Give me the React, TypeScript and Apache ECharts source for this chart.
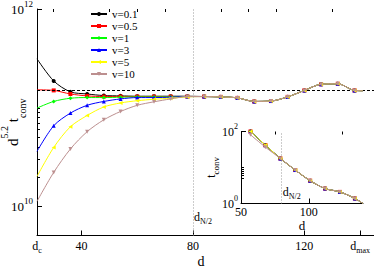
import React, { useEffect, useRef } from 'react';
import * as echarts from 'echarts';

const FONT = 'Liberation Serif';

// ---- series meta ----
const seriesNames = ['v=0.1', 'v=0.5', 'v=1', 'v=3', 'v=5', 'v=10'];
const seriesColors = ['#000000', '#ff0000', '#00ff00', '#0000ff', '#ffff00', '#bc8f8f'];
const seriesSymbols = ['circle', 'rect', 'diamond', 'triangle', 'triangle', 'triangle'];
const seriesSymbolRotate = [0, 0, 0, 0, 90, 180];

// ---- main plot (d^5.2 t_conv vs d) ----
const dHead = [24, 30, 36, 42, 48, 54, 60, 66, 72, 78];
const dTail = [84, 90, 96, 102, 108, 114, 120, 126, 132, 138, 141];

const headV01 = [3.13e11, 1.87e11, 1.45e11, 1.38e11, 1.33e11, 1.32e11, 1.31e11, 1.31e11, 1.31e11, 1.31e11];
const headV05 = [1.52e11, 1.5e11, 1.38e11, 1.32e11, 1.3e11, 1.3e11, 1.3e11, 1.3e11, 1.3e11, 1.3e11];
const headV1 = [9.93e10, 1.16e11, 1.25e11, 1.27e11, 1.27e11, 1.28e11, 1.29e11, 1.29e11, 1.29e11, 1.3e11];
const headV3 = [3.62e10, 6.58e10, 8.84e10, 1.06e11, 1.16e11, 1.23e11, 1.27e11, 1.27e11, 1.28e11, 1.3e11];
const headV5 = [2.02e10, 3.97e10, 6.43e10, 8.36e10, 1.02e11, 1.12e11, 1.18e11, 1.22e11, 1.25e11, 1.29e11];
const headV10 = [1.13e10, 2.22e10, 3.83e10, 5.73e10, 7.56e10, 9.18e10, 1.06e11, 1.15e11, 1.23e11, 1.3e11];
const tailAll = [1.3e11, 1.29e11, 1.26e11, 1.16e11, 1.17e11, 1.29e11, 1.5e11, 1.73e11, 1.75e11, 1.5e11, 1.49e11];

const plateau = 1.52e11;
const dHalf = 80;
const mainLabelY = 7.83e9;

const mainXLabelValues = [24, 40, 80, 120, 140];
const mainXMajorTicks = [40, 80, 120, 140];
const mainXMinorTicks = [30, 50, 60, 70, 90, 100, 110, 130];
const mainYMajor = [1e10, 1e12];
const mainYMinor = [2e10, 3e10, 4e10, 5e10, 6e10, 7e10, 8e10, 9e10, 1e11];

// ---- inset (t_conv vs d) ----
const dInset = [57, 68, 79, 90, 101, 112, 123, 134, 140];
const insetHead = [100, 41.7];
const insetHeadV10 = [81, 36.7];
const insetTail = [17.9, 8.5, 4.3, 2.6, 2.1, 1.38, 1.0];
const insetLabelY = 2.07;

const insetXLabelValues = [50, 100];
const insetXMajorTicks = [100];
const insetXMinorTicks = [75, 125];
const insetYMajor = [1, 100];
const insetYMinor = [5, 6, 7, 8, 9, 10];

const mainHeads = [headV01, headV05, headV1, headV3, headV5, headV10];

function buildMain(head: number[]) {
  const ds = dHead.concat(dTail);
  const vs = head.concat(tailAll);
  return ds.map((d, i) => {
    const item: any = { value: [d, vs[i]] };
    if (i === 0 || i === ds.length - 1) item.symbol = 'none';
    return item;
  });
}

function buildInset(head: number[]) {
  const vs = head.concat(insetTail);
  return dInset.map((d, i) => {
    const item: any = { value: [d, vs[i]] };
    if (i === dInset.length - 1) item.symbol = 'none';
    return item;
  });
}

const txt = (size: number, extra: any = {}) => ({ fontFamily: FONT, fontSize: size, color: '#000', ...extra });

const supStyle = (size: number, lh: number) => txt(size, { verticalAlign: 'top', lineHeight: lh });
const subStyle = (size: number, lh: number) => txt(size, { verticalAlign: 'bottom', lineHeight: lh });

const tenPow = (v: number) => `10{sup|${Math.round(Math.log10(v))}}`;

function buildOption(): any {
  const mainSeries = seriesNames.map((name, i) => {
    const s: any = {
      type: 'line',
      name,
      xAxisIndex: 0,
      yAxisIndex: 0,
      data: buildMain(mainHeads[i]),
      smooth: 0.3,
      symbol: seriesSymbols[i],
      symbolRotate: seriesSymbolRotate[i],
      symbolSize: 4,
      lineStyle: { color: seriesColors[i], width: 1 },
      itemStyle: { color: seriesColors[i] },
      emphasis: { disabled: true },
      z: 3 + i,
    };
    if (i === 0) {
      s.markLine = {
        silent: true,
        symbol: ['none', 'none'],
        label: { show: false },
        data: [
          { yAxis: plateau, lineStyle: { color: '#000', type: [3, 2], width: 1 } },
          { xAxis: dHalf, lineStyle: { color: '#999', type: [1, 2], width: 1 } },
        ],
      };
      s.markPoint = {
        silent: true,
        symbol: 'rect',
        symbolSize: 0.1,
        itemStyle: { color: 'transparent' },
        label: {
          show: true,
          position: 'right',
          distance: 1,
          ...txt(12),
          lineHeight: 16,
          formatter: 'd{sub|N/2}',
          rich: { sub: subStyle(8, 8) },
        },
        data: [{ coord: [dHalf, mainLabelY] }],
      };
    }
    return s;
  });

  const insetSeries = seriesNames.map((name, i) => {
    const s: any = {
      type: 'line',
      name,
      xAxisIndex: 2,
      yAxisIndex: 2,
      data: buildInset(i === 5 ? insetHeadV10 : insetHead),
      smooth: 0.3,
      symbol: seriesSymbols[i],
      symbolRotate: seriesSymbolRotate[i],
      symbolSize: 4,
      lineStyle: { color: seriesColors[i], width: 1 },
      itemStyle: { color: seriesColors[i] },
      emphasis: { disabled: true },
      z: 3 + i,
    };
    if (i === 0) {
      s.markLine = {
        silent: true,
        symbol: ['none', 'none'],
        label: { show: false },
        data: [{ xAxis: dHalf, lineStyle: { color: '#999', type: [1, 2], width: 1 } }],
      };
      s.markPoint = {
        silent: true,
        symbol: 'rect',
        symbolSize: 0.1,
        itemStyle: { color: 'transparent' },
        label: {
          show: true,
          position: 'right',
          distance: 1,
          ...txt(12),
          lineHeight: 16,
          formatter: 'd{sub|N/2}',
          rich: { sub: subStyle(8, 8) },
        },
        data: [{ coord: [dHalf, insetLabelY] }],
      };
    }
    return s;
  });

  const axisLine = () => ({ show: true, lineStyle: { color: '#000', width: 1, opacity: 1 } });
  const tick = (vals: number[], len: number) => ({
    show: true,
    inside: true,
    length: len,
    customValues: vals,
    lineStyle: { color: '#000', width: 1 },
  });

  return {
    animation: false,
    backgroundColor: '#fff',
    grid: [
      { left: 37, top: 9, right: 0, bottom: 33.5, containLabel: false, outerBoundsMode: 'none' },
      { left: 241, top: 131.5, width: 122, height: 72, containLabel: false, outerBoundsMode: 'none' },
    ],
    legend: {
      data: seriesNames,
      orient: 'vertical',
      left: 90,
      top: 8,
      padding: 0,
      itemWidth: 16,
      itemHeight: 5,
      itemGap: 0,
      selectedMode: false,
      textStyle: txt(11, { lineHeight: 12 }),
    },
    xAxis: [
      {
        type: 'value',
        gridIndex: 0,
        min: 24,
        max: 145,
        axisLine: axisLine(),
        axisTick: tick(mainXMajorTicks, 5),
        splitLine: { show: false },
        axisLabel: {
          show: true,
          customValues: mainXLabelValues,
          ...txt(12),
          margin: 1,
          lineHeight: 18,
          formatter: (v: number) => (v === 24 ? 'd{sub|c}' : v === 140 ? 'd{sub|max}' : String(v)),
          rich: { sub: subStyle(8, 8) },
        },
        name: 'd',
        nameLocation: 'middle',
        nameGap: 19,
        nameMoveOverlap: false,
        nameTextStyle: txt(14, { padding: [0, 9, 0, 0] }),
      },
      {
        type: 'value',
        gridIndex: 0,
        min: 24,
        max: 145,
        axisLine: { show: false },
        axisTick: tick(mainXMinorTicks, 3),
        axisLabel: { show: false },
        splitLine: { show: false },
      },
      {
        type: 'value',
        gridIndex: 1,
        min: 50,
        max: 140,
        axisLine: axisLine(),
        axisTick: tick(insetXMajorTicks, 5),
        splitLine: { show: false },
        axisLabel: {
          show: true,
          customValues: insetXLabelValues,
          ...txt(12),
          margin: 2,
        },
        name: 'd',
        nameLocation: 'middle',
        nameGap: 15,
        nameMoveOverlap: false,
        nameTextStyle: txt(13),
      },
      {
        type: 'value',
        gridIndex: 1,
        min: 50,
        max: 140,
        axisLine: { show: false },
        axisTick: tick(insetXMinorTicks, 3),
        axisLabel: { show: false },
        splitLine: { show: false },
      },
    ],
    yAxis: [
      {
        type: 'log',
        logBase: 10,
        gridIndex: 0,
        min: 5.1e9,
        max: 1e12,
        axisLine: axisLine(),
        axisTick: tick(mainYMajor, 5),
        splitLine: { show: false },
        minorTick: { show: false },
        axisLabel: {
          show: true,
          customValues: mainYMajor,
          ...txt(13),
          margin: 4,
          lineHeight: 20,
          formatter: tenPow,
          rich: { sup: supStyle(9, 9) },
        },
        name: 'd{sup|5.2} t{sub|conv}',
        nameLocation: 'middle',
        nameRotate: 90,
        nameGap: 10,
        nameMoveOverlap: false,
        nameTextStyle: txt(15, {
          lineHeight: 28,
          rich: { sup: supStyle(10, 10), sub: subStyle(10, 16) },
        }),
      },
      {
        type: 'log',
        logBase: 10,
        gridIndex: 0,
        position: 'left',
        offset: 0,
        min: 5.1e9,
        max: 1e12,
        axisLine: { show: false },
        axisTick: tick(mainYMinor, 3),
        axisLabel: { show: false },
        splitLine: { show: false },
      },
      {
        type: 'log',
        logBase: 10,
        gridIndex: 1,
        min: 1,
        max: 100,
        axisLine: axisLine(),
        axisTick: tick(insetYMajor, 5),
        splitLine: { show: false },
        axisLabel: {
          show: true,
          customValues: insetYMajor,
          ...txt(12),
          margin: 3,
          lineHeight: 18,
          formatter: tenPow,
          rich: { sup: supStyle(8, 8) },
        },
        name: 't{sub|conv}',
        nameLocation: 'middle',
        nameRotate: 90,
        nameGap: 21,
        nameMoveOverlap: false,
        nameTextStyle: txt(13, {
          lineHeight: 20,
          rich: { sub: subStyle(9, 12) },
        }),
      },
      {
        type: 'log',
        logBase: 10,
        gridIndex: 1,
        position: 'left',
        offset: 0,
        min: 1,
        max: 100,
        axisLine: { show: false },
        axisTick: tick(insetYMinor, 3),
        axisLabel: { show: false },
        splitLine: { show: false },
      },
    ],
    series: [...mainSeries, ...insetSeries],
  };
}

export default function App() {
  const ref = useRef<HTMLDivElement>(null);
  useEffect(() => {
    if (!ref.current) return;
    const chart = echarts.init(ref.current, undefined, { renderer: 'svg' });
    chart.setOption(buildOption());
    return () => chart.dispose();
  }, []);
  return (
    <div
      ref={ref}
      style={{ position: 'fixed', left: 0, top: 0, width: 374, height: 269, background: '#fff' }}
    />
  );
}
